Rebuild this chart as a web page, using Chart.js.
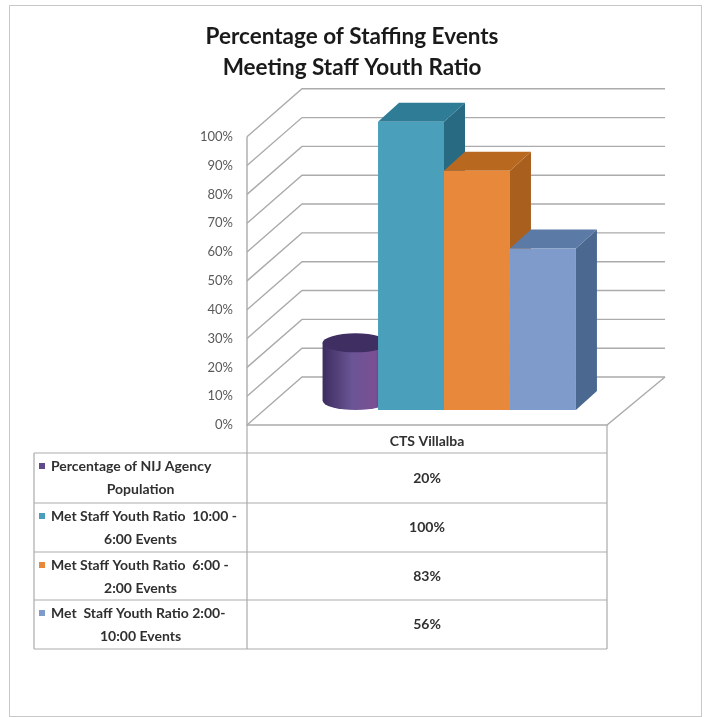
<!DOCTYPE html>
<html>
<head>
<meta charset="utf-8">
<script src="https://cdn.jsdelivr.net/npm/chart.js@4"></script>
<style>
  html, body { margin: 0; padding: 0; background: #fff; overflow: hidden; }
  #frame { position: absolute; left: 9px; top: 5px; width: 693px; height: 712px; border: 1.5px solid #c8c8c8; box-sizing: border-box; }
  canvas { position: absolute; left: 0; top: 0; }
</style>
</head>
<body>
<div id="frame"></div>
<canvas id="chart" width="704" height="717"></canvas>
<script>
const titleLines = ['Percentage of Staffing Events', 'Meeting Staff Youth Ratio'];
const categories = ['CTS Villalba'];
const seriesNames = [
    ['Percentage of NIJ Agency', 'Population'],
    ['Met Staff Youth Ratio  10:00 -', '6:00 Events'],
    ['Met Staff Youth Ratio  6:00 -', '2:00 Events'],
    ['Met  Staff Youth Ratio 2:00-', '10:00 Events']
];
const seriesValues = [20, 100, 83, 56];
const yTickValues = [0, 10, 20, 30, 40, 50, 60, 70, 80, 90, 100];

const colors = {
    purple: '#5f4a8b',
    teal: '#4aa0bb',
    orange: '#e8883a',
    blue: '#7f9bcc',
    tealTop: '#2f7c97', tealSide: '#276a82',
    orangeTop: '#b8691f', orangeSide: '#a9601f',
    blueTop: '#5b7ba6', blueSide: '#4a6890',
    grid: '#ababab',
    text: '#303030',
    tick: '#595959'
};
const faceColors = [colors.purple, colors.teal, colors.orange, colors.blue];
const topColors = [null, colors.tealTop, colors.orangeTop, colors.blueTop];
const sideColors = [null, colors.tealSide, colors.orangeSide, colors.blueSide];

const DEPTH_X = 55, DEPTH_Y = 48;   // floor depth of the fake 3d box
const BAR_X = 17, BAR_Y = 15;       // bars stand a bit in from the front edge
const BAR_DX = 21, BAR_DY = 19;     // depth of one bar

// walls and floor, behind the bars
const wallsPlugin = {
    id: 'walls',
    afterLayout(chart) {
        // title is centred on the whole page, not on the plot
        chart.titleBlock.right = chart.width;
    },
    beforeDatasetsDraw(chart) {
        const { ctx, chartArea: a, scales: { y } } = chart;
        ctx.save();
        ctx.strokeStyle = colors.grid;
        ctx.lineWidth = 1.4;
        yTickValues.forEach(v => {
            const py = y.getPixelForValue(v);
            ctx.beginPath();
            ctx.moveTo(a.left, py);
            ctx.lineTo(a.left + DEPTH_X, py - DEPTH_Y);
            ctx.lineTo(a.right + DEPTH_X + 3, py - DEPTH_Y);
            ctx.stroke();
        });
        ctx.beginPath();
        ctx.moveTo(a.left, y.getPixelForValue(100));
        ctx.lineTo(a.left, a.bottom);
        ctx.lineTo(a.right, a.bottom);
        ctx.lineTo(a.right + DEPTH_X + 3, a.bottom - DEPTH_Y);
        ctx.stroke();
        ctx.restore();
    }
};

function drawDepth(ctx, bar, i) {
    const w = bar.width;
    const l = bar.x - w / 2 + BAR_X, r = bar.x + w / 2 + BAR_X;
    const t = bar.y - BAR_Y, b = bar.base - BAR_Y;
    if (i === 0) {
        const cx = (l + r) / 2 + BAR_DX / 2, rx = w / 2, ry = 9.5;
        const topY = t - BAR_DY / 2, botY = b - BAR_DY / 2;
        const grad = ctx.createLinearGradient(cx - rx, 0, cx + rx, 0);
        grad.addColorStop(0, '#3c2c5f');
        grad.addColorStop(0.45, '#6b5595');
        grad.addColorStop(0.8, '#7a4f93');
        grad.addColorStop(1, '#4a3570');
        ctx.fillStyle = grad;
        ctx.beginPath();
        ctx.ellipse(cx, botY, rx, ry, 0, 0, Math.PI);
        ctx.lineTo(cx - rx, topY);
        ctx.lineTo(cx + rx, topY);
        ctx.closePath();
        ctx.fill();
        ctx.fillStyle = '#3f2e62';
        ctx.beginPath();
        ctx.ellipse(cx, topY, rx, ry, 0, 0, Math.PI * 2);
        ctx.fill();
        return;
    }
    ctx.fillStyle = sideColors[i];
    ctx.beginPath();
    ctx.moveTo(r, t);
    ctx.lineTo(r + BAR_DX, t - BAR_DY);
    ctx.lineTo(r + BAR_DX, b - BAR_DY);
    ctx.lineTo(r, b);
    ctx.closePath();
    ctx.fill();
    ctx.fillStyle = topColors[i];
    ctx.beginPath();
    ctx.moveTo(l, t);
    ctx.lineTo(l + BAR_DX, t - BAR_DY);
    ctx.lineTo(r + BAR_DX, t - BAR_DY);
    ctx.lineTo(r, t);
    ctx.closePath();
    ctx.fill();
}

// chart.js paints the last dataset first, here the left bar must go first
const bars3dPlugin = {
    id: 'bars3d',
    beforeDatasetDraw() {
        return false;
    },
    afterDatasetsDraw(chart) {
        const { ctx } = chart;
        seriesValues.forEach((v, i) => {
            const bar = chart.getDatasetMeta(i).data[0];
            ctx.save();
            drawDepth(ctx, bar, i);
            ctx.translate(BAR_X, -BAR_Y);
            bar.draw(ctx);
            ctx.restore();
        });
    }
};

// Excel style data table under the chart
const dataTablePlugin = {
    id: 'dataTable',
    afterDraw(chart) {
        const { ctx, chartArea: a } = chart;
        const left = 34, mid = a.left, right = a.right;
        const rowY = [453, 503, 552, 600, 649];
        ctx.save();
        ctx.strokeStyle = colors.grid;
        ctx.lineWidth = 1.2;
        ctx.beginPath();
        ctx.moveTo(mid, a.bottom); ctx.lineTo(mid, rowY[4]);
        ctx.moveTo(right, a.bottom); ctx.lineTo(right, rowY[4]);
        ctx.moveTo(left, rowY[0]); ctx.lineTo(left, rowY[4]);
        rowY.forEach(y => { ctx.moveTo(left, y); ctx.lineTo(right, y); });
        ctx.stroke();

        ctx.textBaseline = 'middle';
        ctx.font = 'bold 14px Lato';
        seriesNames.forEach((lines, i) => {
            const y0 = rowY[i] + 13, y1 = rowY[i] + 36;
            ctx.textAlign = 'left';
            ctx.fillStyle = faceColors[i];
            ctx.fillRect(39, y0 - 3, 6, 6);
            ctx.fillStyle = colors.text;
            ctx.fillText(lines[0], 51, y0);
            ctx.textAlign = 'center';
            ctx.fillText(lines[1], (left + mid) / 2, y1);
            ctx.fillText(seriesValues[i] + '%', (mid + right) / 2, (rowY[i] + rowY[i + 1]) / 2);
        });
        ctx.restore();
    }
};

new Chart(document.getElementById('chart'), {
    type: 'bar',
    data: {
        labels: categories,
        datasets: seriesValues.map((v, i) => ({
            label: seriesNames[i].join(' '),
            data: [v],
            backgroundColor: i === 0 ? 'transparent' : faceColors[i],
            borderWidth: 0,
            barPercentage: 1,
            categoryPercentage: 0.733
        }))
    },
    options: {
        responsive: false,
        animation: false,
        layout: { padding: { top: 12, right: 97, bottom: 264, left: 0 } },
        plugins: {
            legend: { display: false },
            tooltip: { enabled: false },
            title: {
                display: true,
                text: titleLines,
                color: '#1a1a1a',
                font: { family: 'Lato', size: 22.5, weight: 'bold', lineHeight: 1.35 },
                padding: { top: 10, bottom: 54 }
            }
        },
        scales: {
            x: {
                grid: { display: false },
                border: { display: false },
                ticks: { color: colors.text, font: { family: 'Lato', size: 14, weight: 'bold' }, padding: 0 },
                afterFit(s) { s.height = 28; }
            },
            y: {
                min: 0,
                max: 100,
                grid: { display: false },
                border: { display: false },
                afterBuildTicks(s) { s.ticks = yTickValues.map(value => ({ value })); },
                afterFit(s) { s.width = 247; },
                ticks: {
                    color: colors.tick,
                    font: { family: 'Lato', size: 13 },
                    padding: 6,
                    callback: v => v + '%'
                }
            }
        }
    },
    plugins: [wallsPlugin, bars3dPlugin, dataTablePlugin]
});
</script>
</body>
</html>
